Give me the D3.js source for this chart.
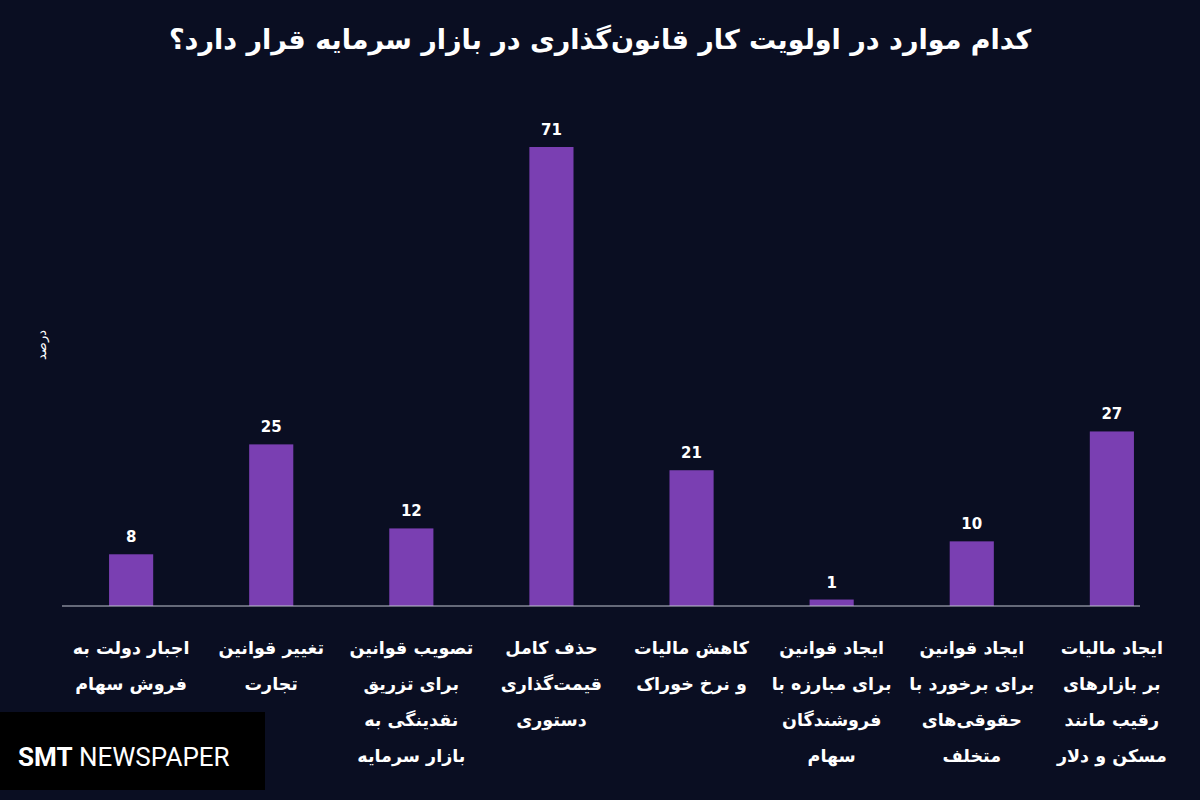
<!DOCTYPE html>
<html><head><meta charset="utf-8">
<script src="https://cdn.jsdelivr.net/npm/d3@7"></script>
<style>body{margin:0;background:#0a0e22;}svg{display:block;}</style>
</head><body>
<svg width="1200" height="800"></svg>
<script>
const categories = [
  ['اجبار دولت به', 'فروش سهام', 'در بورس'],
  ['تغییر قوانین', 'تجارت'],
  ['تصویب قوانین', 'برای تزریق', 'نقدینگی به', 'بازار سرمایه'],
  ['حذف کامل', 'قیمت‌گذاری', 'دستوری'],
  ['کاهش مالیات', 'و نرخ خوراک'],
  ['ایجاد قوانین', 'برای مبارزه با', 'فروشندگان', 'سهام'],
  ['ایجاد قوانین', 'برای برخورد با', 'حقوقی‌های', 'متخلف'],
  ['ایجاد مالیات', 'بر بازارهای', 'رقیب مانند', 'مسکن و دلار']
];
const values = [8, 25, 12, 71, 21, 1, 10, 27];
const title = 'کدام موارد در اولویت کار قانون‌گذاری در بازار سرمایه قرار دارد؟';

const svg = d3.select('svg');
const font = '"DejaVu Sans", "Noto Sans", sans-serif';

const x = d3.scaleBand().domain(d3.range(values.length)).range([61, 1182]).paddingInner(0.685).paddingOuter(0.343);
const y = d3.scaleLinear().domain([0, 71]).range([606, 147]);

svg.append('text').attr('x', 600).attr('y', 49).attr('text-anchor', 'middle')
  .attr('direction', 'rtl').attr('fill', '#fff').attr('font-family', font)
  .attr('font-weight', 'bold').attr('font-size', 27).text(title);

svg.append('text').attr('transform', 'translate(46,345) rotate(-90)')
  .attr('text-anchor', 'middle').attr('fill', '#fff').attr('font-family', font)
  .attr('font-size', 13).text('درصد');

svg.selectAll('rect.bar').data(values).enter().append('rect')
  .attr('class', 'bar')
  .attr('x', (d, i) => x(i)).attr('width', x.bandwidth())
  .attr('y', d => y(d)).attr('height', d => y(0) - y(d))
  .attr('fill', '#7a3fb2');

svg.selectAll('text.val').data(values).enter().append('text')
  .attr('class', 'val')
  .attr('x', (d, i) => x(i) + x.bandwidth() / 2).attr('y', d => y(d) - 12)
  .attr('text-anchor', 'middle').attr('fill', '#fff').attr('font-family', font)
  .attr('font-weight', 'bold').attr('font-size', 15).text(d => d);

svg.append('line').attr('x1', 62).attr('x2', 1140).attr('y1', y(0)).attr('y2', y(0))
  .attr('stroke', '#bfc3d0').attr('stroke-width', 1.2);

const lab = svg.selectAll('text.cat').data(categories).enter().append('text')
  .attr('class', 'cat').attr('text-anchor', 'middle').attr('direction', 'rtl')
  .attr('fill', '#fff').attr('font-family', font).attr('font-weight', 'bold').attr('font-size', 17.5);
lab.each(function(lines, i) {
  const cx = x(i) + x.bandwidth() / 2;
  d3.select(this).selectAll('tspan').data(lines).enter().append('tspan')
    .attr('x', cx).attr('y', (d, j) => 654 + j * 36).text(d => d);
});

svg.append('rect').attr('x', 0).attr('y', 712).attr('width', 265).attr('height', 78).attr('fill', '#000');
svg.append('text').attr('x', 18).attr('y', 766).attr('fill', '#fff')
  .attr('font-family', 'Roboto, sans-serif').attr('font-size', 26)
  .html('<tspan font-weight="bold">SMT</tspan> NEWSPAPER');
</script>
</body></html>
